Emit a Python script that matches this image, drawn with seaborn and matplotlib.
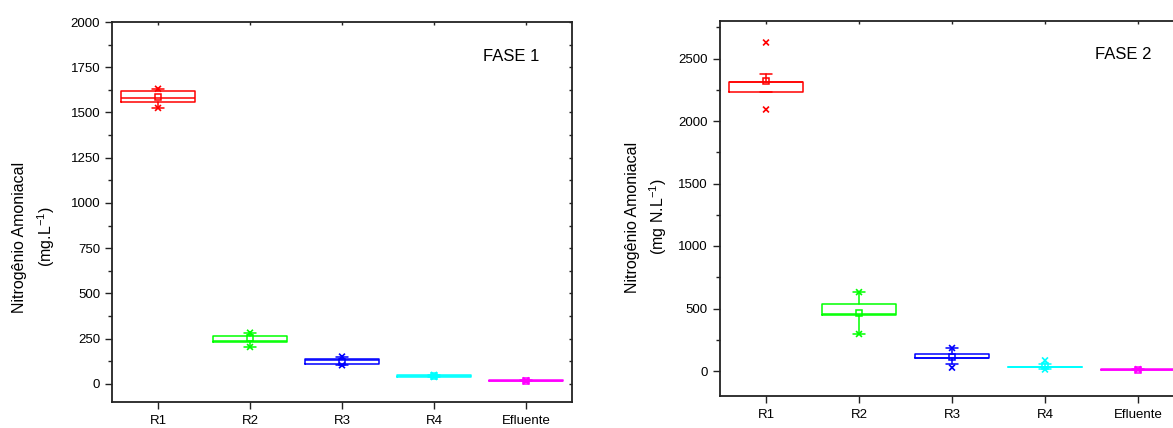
import numpy as np
import pandas as pd
import matplotlib
matplotlib.use("Agg")
import matplotlib.pyplot as plt
from matplotlib.ticker import MultipleLocator, NullFormatter
import seaborn as sns

sns.set_style("ticks")
plt.rcParams['font.family'] = ['Liberation Sans', 'DejaVu Sans']
plt.rcParams['text.color'] = 'black'
plt.rcParams['xtick.color'] = '#222222'
plt.rcParams['ytick.color'] = '#222222'
plt.rcParams['xtick.labelcolor'] = 'black'
plt.rcParams['ytick.labelcolor'] = 'black'

categories = ["R1", "R2", "R3", "R4", "Efluente"]
colors = ["#FF0000", "#00FF00", "#0000FF", "#00FFFF", "#FF00FF"]

# FASE 1
f1_q1 = [1556, 230, 110, 40, 15]
f1_med = [1580, 239, 130, 44, 17]
f1_q3 = [1619, 263, 136, 48, 19]
f1_mean = [1584, 252, 123, 44, 17]
f1_whislo = [1525, 204, 103, 38, 14]
f1_whishi = [1631, 283, 151, 50, 20]
f1_xlo = [1525, 204, 103, 38, 14]
f1_xhi = [1631, 283, 151, 50, 20]

# FASE 2
f2_q1 = [2233, 445, 101, 29, 9]
f2_med = [2310, 458, 106, 32, 11]
f2_q3 = [2316, 538, 138, 35, 13]
f2_mean = [2318, 466, 114, 38, 12]
f2_whislo = [2233, 296, 56, 20, 8]
f2_whishi = [2374, 631, 184, 60, 14]
f2_xlo = [2092, 296, 27, 12, 8]
f2_xhi = [2628, 631, 184, 85, 15]


def draw_panel(ax, q1, med, q3, mean, wlo, whi, xlo, xhi, ylim, major, minor, phase):
    pos = np.arange(len(categories))
    for i, c in enumerate(categories):
        st = [dict(q1=q1[i], med=med[i], q3=q3[i], whislo=wlo[i], whishi=whi[i], fliers=[], label=c)]
        col = colors[i]
        ax.bxp(st, positions=[pos[i]], widths=0.8, capwidths=0.12, showfliers=False,
               boxprops=dict(color=col, lw=1.1), medianprops=dict(color=col, lw=1.1),
               whiskerprops=dict(color=col, lw=1.1), capprops=dict(color=col, lw=1.1),
               manage_ticks=False)
        ax.plot(pos[i], mean[i], marker='s', ms=4.5, mfc='none', mec=col, mew=1.1, ls='none')
    df = pd.DataFrame({"pos": np.concatenate([pos, pos]),
                       "val": np.concatenate([xlo, xhi]),
                       "cat": categories + categories})
    sns.scatterplot(data=df, x="pos", y="val", hue="cat", palette=colors, marker="x",
                    s=18, linewidth=1.2, legend=False, ax=ax)
    ax.set_xlim(-0.5, len(categories) - 0.5)
    ax.set_ylim(*ylim)
    ax.set_xticks(pos)
    ax.set_xticklabels(categories, fontsize=9.5)
    ax.yaxis.set_major_locator(MultipleLocator(major))
    ax.yaxis.set_minor_locator(MultipleLocator(minor))
    ax.tick_params(axis='y', which='major', labelsize=9.5, length=5, width=1)
    ax.tick_params(axis='y', which='minor', length=3, width=1)
    ax.tick_params(axis='x', which='major', length=5, width=1, pad=4)
    ax.set_xlabel("")
    ax.set_ylabel("")
    for s in ax.spines.values():
        s.set_visible(True)
        s.set_color('#222222')
        s.set_linewidth(1.3)
    # tiny inward ticks on top and right
    sy = ax.secondary_yaxis('right')
    sy.yaxis.set_major_locator(MultipleLocator(major))
    sy.yaxis.set_minor_locator(MultipleLocator(minor))
    sy.yaxis.set_major_formatter(NullFormatter())
    sy.tick_params(which='both', direction='in', length=2, width=1)
    sy.spines['right'].set_visible(False)
    sx = ax.secondary_xaxis('top')
    sx.set_xticks(pos)
    sx.set_xticklabels([])
    sx.tick_params(direction='in', length=2, width=1)
    sx.spines['top'].set_visible(False)
    ax.text(0.93, 0.91, phase, transform=ax.transAxes, fontsize=12, ha='right', va='center')


fig = plt.figure(figsize=(11.73, 4.28), dpi=100)
ax1 = fig.add_axes([112 / 1173, 1 - 402 / 428, 460 / 1173, 380 / 428])
ax2 = fig.add_axes([719.5 / 1173, 1 - 396 / 428, 465 / 1173, 375 / 428])

draw_panel(ax1, f1_q1, f1_med, f1_q3, f1_mean, f1_whislo, f1_whishi, f1_xlo, f1_xhi,
           (-100, 2000), 250, 125, "FASE 1")
draw_panel(ax2, f2_q1, f2_med, f2_q3, f2_mean, f2_whislo, f2_whishi, f2_xlo, f2_xhi,
           (-200, 2800), 500, 250, "FASE 2")

fig.text(20 / 1173, 1 - 237 / 428, "Nitrogênio Amoniacal", rotation=90, fontsize=11.5,
         ha='center', va='center')
fig.text(46 / 1173, 1 - 237 / 428, "(mg.L$^{\\mathregular{-1}}$)", rotation=90, fontsize=11.5,
         ha='center', va='center')
fig.text(633 / 1173, 1 - 217 / 428, "Nitrogênio Amoniacal", rotation=90, fontsize=11.5,
         ha='center', va='center')
fig.text(658 / 1173, 1 - 217 / 428, "(mg N.L$^{\\mathregular{-1}}$)", rotation=90, fontsize=11.5,
         ha='center', va='center')

fig.savefig("out.png", dpi=100)
